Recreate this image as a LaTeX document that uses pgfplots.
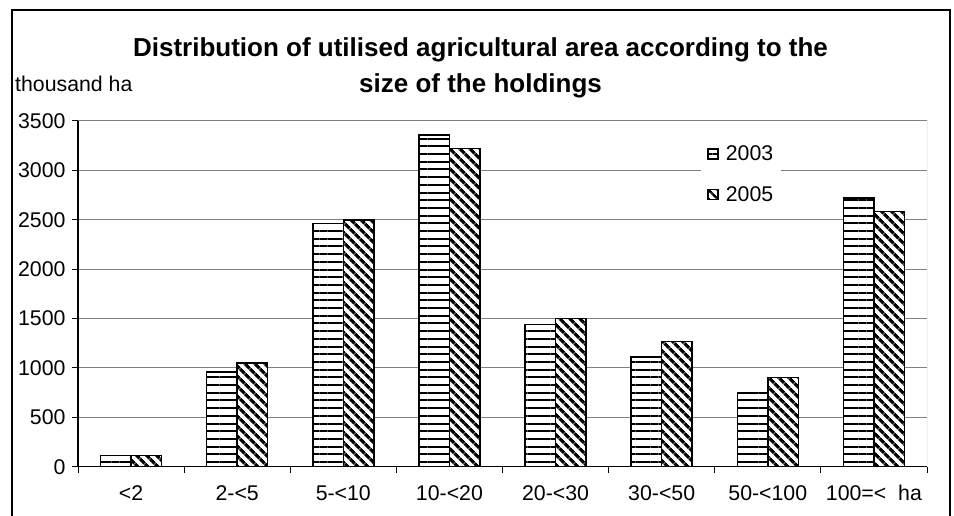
\documentclass[border=0pt]{standalone}
\usepackage{pgfplots}
\pgfplotsset{compat=1.18}
\usepackage{fontspec}
\setmainfont{Liberation Sans}
\usetikzlibrary{patterns.meta}

\pgfplotstableread{
x y2003 y2005
0 115 112
1 960 1050
2 2460 2500
3 3358 3220
4 1440 1500
5 1110 1270
6 750 905
7 2722 2582
}\datatable

\begin{document}
\begin{tikzpicture}
\useasboundingbox (0,0) rectangle (954pt,516pt);
\draw[line width=1.2pt] (12pt,-5pt) -- (12pt,506pt) -- (950pt,506pt) -- (950pt,-5pt);
\node[anchor=base, inner sep=0pt, font=\fontsize{26}{30}\selectfont\bfseries] at (480.5pt,459pt) {Distribution of utilised agricultural area according to the};
\node[anchor=base, inner sep=0pt, font=\fontsize{26}{30}\selectfont\bfseries] at (480.5pt,423pt) {size of the holdings};
\node[anchor=base west, inner sep=0pt, font=\fontsize{21.3}{24}\selectfont] at (15pt,424pt) {thousand ha};
\begin{axis}[
  at={(78pt,49.3pt)}, anchor=south west,
  scale only axis, width=849pt, height=345.7pt,
  ymin=0, ymax=3500, ytick={0,500,...,3500},
  xmin=-0.5, xmax=7.5,
  xtick={0,...,7},
  xticklabels={{<2},{2-<5},{5-<10},{10-<20},{20-<30},{30-<50},{50-<100},{100=<\ \ ha}},
  minor xtick={-0.5,0.5,...,7.5},
  axis lines*=left,
  axis line style={line width=1.2pt, black, -},
  tick align=outside,
  major tick length=6pt, minor tick length=6pt,
  every major x tick/.append style={draw=none},
  every tick/.append style={line width=1pt, black},
  every minor tick/.append style={line width=1pt, black},
  ymajorgrids,
  y grid style={line width=1pt, black!50},
  /pgf/number format/assume math mode=true,
  /pgf/number format/1000 sep={},
  ticklabel style={font=\fontsize{21.3}{24}\selectfont},
  xticklabel style={yshift=-9pt},
  yticklabel style={xshift=-3pt},
  ybar=0pt, bar width=30.5pt,
  legend image code/.code={\draw[#1] (0pt,-5pt) rectangle (10pt,5pt);},
  legend style={at={(0.734,0.946)}, anchor=north west, draw=none, fill=white,
    font=\fontsize{21.3}{24}\selectfont, row sep=20pt, inner xsep=6pt, inner ysep=4pt},
  legend cell align=left,
]
\addplot[draw=black, line width=1.5pt, fill=white,
  postaction={pattern={Lines[angle=0,distance=7.7pt,line width=2pt]}}]
  table[x=x, y=y2003] {\datatable};
\addplot[draw=black, line width=1.5pt, fill=white,
  postaction={pattern={Lines[angle=-45,distance=7.4pt,line width=3.6pt]}}]
  table[x=x, y=y2005] {\datatable};
\legend{\hspace{5pt}2003,\hspace{5pt}2005}
\draw[black!50, line width=1pt] (rel axis cs:0,1) -- (rel axis cs:1,1) -- (rel axis cs:1,0);
\end{axis}
\end{tikzpicture}
\end{document}
